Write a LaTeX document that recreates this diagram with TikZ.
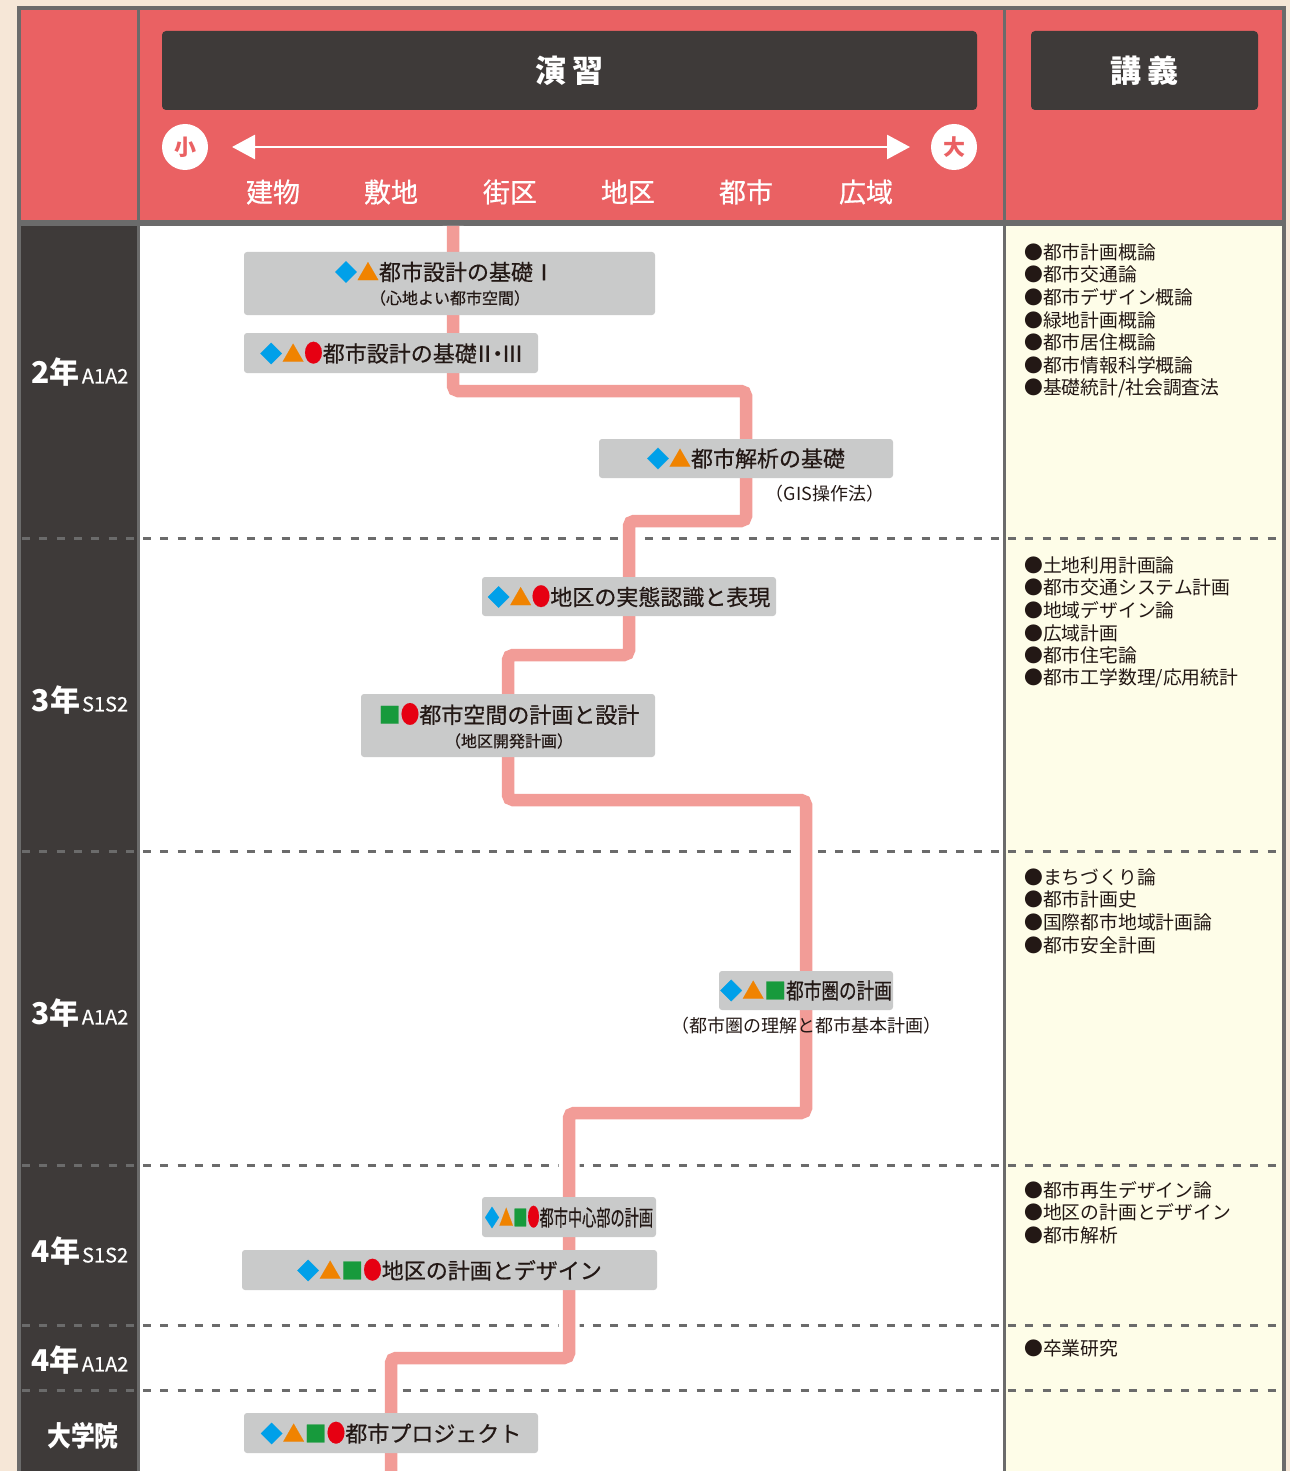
\documentclass[tikz,border=0pt]{standalone}
\usepackage{fontspec}
\usepackage{graphicx}
\setmainfont{Noto Sans CJK JP}
\usetikzlibrary{arrows.meta}
\definecolor{bg}{HTML}{F6E7D7}
\definecolor{hdr}{HTML}{EA6163}
\definecolor{dk}{HTML}{3E3A39}
\definecolor{framec}{HTML}{6B6B6B}
\definecolor{boxg}{HTML}{C9CACA}
\definecolor{pathc}{HTML}{F29C97}
\definecolor{cream}{HTML}{FEFDE8}
\definecolor{txt}{HTML}{231815}
\definecolor{cblue}{HTML}{00A0E9}
\definecolor{corange}{HTML}{F08300}
\definecolor{cgreen}{HTML}{179A3C}
\definecolor{cred}{HTML}{E60012}
\newcommand\fsz[1]{\fontsize{#1}{#1}\selectfont}
\newcommand\sD{\textcolor{cblue}{◆}}
\newcommand\sT{\textcolor{corange}{▲}}
\newcommand\sS{\textcolor{cgreen}{■}}
\newcommand\sC{\textcolor{cred}{\scalebox{0.85}[1.1]{●}}}
\newcommand\medw{\addfontfeature{FakeBold=0.6}}
\tikzset{
  boxn/.style={fill=boxg, rounded corners=3pt, inner sep=0pt, text=txt, font=\fsz{22}\medw},
  boxt/.style={inner sep=0pt, text=txt, font=\fsz{22}\medw},
  subt/.style={inner sep=0pt, text=txt, font=\fsz{16}\medw},
  outt/.style={inner sep=0pt, text=txt, font=\fsz{18}},
  lec/.style={anchor=west, inner sep=0pt, text=txt, font=\fsz{18.8}},
  scalelab/.style={inner sep=0pt, text=white, font=\fsz{27}\medw},
  yearl/.style={inner sep=0pt, text=white, font=\bfseries},
  titlebox/.style={fill=dk, rounded corners=4pt, inner sep=0pt, text=white, font=\bfseries\fsz{31}},
  endc/.style={circle, fill=white, minimum size=46pt, inner sep=0pt, text=hdr, font=\bfseries\fsz{22}},
  divline/.style={draw=framec, line width=3pt, dash pattern=on 8pt off 9.3pt},
  route/.style={draw=pathc, line width=12.5pt, rounded corners=5pt},
  halo/.style={draw=white, line width=21pt, rounded corners=5pt},
}
\begin{document}
\begin{tikzpicture}[x=1pt,y=-1pt]
\useasboundingbox (0,0) rectangle (1290,1471);
\fill[bg] (0,0) rectangle (1290,1471);
\fill[framec] (17,6) rectangle (1286,1471);
% header
\fill[hdr] (21,10) rectangle (136.5,220);
\fill[hdr] (139.5,10) rectangle (1002.5,220);
\fill[hdr] (1005.5,10) rectangle (1282,220);
% body
\fill[dk] (21,226) rectangle (136.5,1471);
\fill[white] (139.5,226) rectangle (1002.5,1471);
\fill[cream] (1005.5,226) rectangle (1282,1471);

% dashed row dividers
\foreach \yy [count=\i] in {538,851,1165,1325,1390}
  \draw[divline] (22,\yy) coordinate (dl\i) -- (1282,\yy) coordinate (dr\i);

% header content
\node[titlebox, minimum width=815pt, minimum height=79pt] (ensh) at (569.5,70.5) {演\hspace{7pt}習};
\node[titlebox, minimum width=227pt, minimum height=79pt] (kogi) at (1144.5,70.5) {講\hspace{7pt}義};
\node[endc] (small) at (185,147) {小};
\node[endc] (large) at (954,147) {大};
\coordinate (arL) at (232,147);
\coordinate (arR) at (910,147);
\draw[white, line width=2.8pt, {Triangle[length=23pt,width=24pt]}-{Triangle[length=23pt,width=24pt]}] (arL) -- (arR);
\node[scalelab] (s1) at (273,192) {建物};
\node[scalelab] (s2) at (391,192) {敷地};
\node[scalelab] (s3) at (510,192) {街区};
\node[scalelab] (s4) at (628,192) {地区};
\node[scalelab] (s5) at (746,192) {都市};
\node[scalelab] (s6) at (866,192) {広域};

% year labels
\node[yearl] (y1) at (80,372) {{\fsz{30}2年}\hspace{2pt}{\mdseries\medw\fsz{20}A1A2}};
\node[yearl] (y2) at (80,700) {{\fsz{30}3年}\hspace{2pt}{\mdseries\medw\fsz{20}S1S2}};
\node[yearl] (y3) at (80,1013) {{\fsz{30}3年}\hspace{2pt}{\mdseries\medw\fsz{20}A1A2}};
\node[yearl] (y4) at (80,1251) {{\fsz{30}4年}\hspace{2pt}{\mdseries\medw\fsz{20}S1S2}};
\node[yearl] (y5) at (80,1360) {{\fsz{30}4年}\hspace{2pt}{\mdseries\medw\fsz{20}A1A2}};
\node[yearl] (y6) at (83,1436) {\fsz{28}\scalebox{0.85}[1]{大学院}};

% route
\coordinate (p0) at (453,226);
\coordinate (p1) at (453,391);
\coordinate (p2) at (746,391);
\coordinate (p3) at (746,521);
\coordinate (p4) at (629,521);
\coordinate (p5) at (629,655);
\coordinate (p6) at (508,655);
\coordinate (p7) at (508,800);
\coordinate (p8) at (806,800);
\coordinate (p9) at (806,1113);
\coordinate (p10) at (569,1113);
\coordinate (p11) at (569,1358);
\coordinate (p12) at (391,1358);
\coordinate (p13) at (391,1475);
\draw[halo] (p0) -- (p1) -- (p2) -- (p3) -- (p4) -- (p5) -- (p6) -- (p7) -- (p8) -- (p9) -- (p10) -- (p11) -- (p12) -- (p13);
\draw[route] (p0) -- (p1) -- (p2) -- (p3) -- (p4) -- (p5) -- (p6) -- (p7) -- (p8) -- (p9) -- (p10) -- (p11) -- (p12) -- (p13);

% exercise boxes
\node[boxn, minimum width=411pt, minimum height=63pt] (b1) at (449.5,283.5) {};
\node[boxt] (b1t) at (445,272) {\sD\sT 都市設計の基礎Ⅰ};
\node[subt] (b1s) at (450,298) {（心地よい都市空間）};

\node[boxn, minimum width=294pt, minimum height=40pt] (b2) at (391,353) {\sD\sT\sC 都市設計の基礎\makebox[0.7em]{Ⅱ}\makebox[0.5em]{・}\makebox[0.85em]{Ⅲ}};

\node[boxn, minimum width=294pt, minimum height=39pt] (b3) at (746,458.5) {\sD\sT 都市解析の基礎};
\node[outt] (b3s) at (825,494) {（GIS操作法）};

\node[boxn, minimum width=294pt, minimum height=39pt] (b4) at (629,596.5) {\sD\sT\sC 地区の実態認識と表現};

\node[boxn, minimum width=294pt, minimum height=63pt] (b5) at (508,725.5) {};
\node[boxt] (b5t) at (509,714) {\sS\sC 都市空間の計画と設計};
\node[subt] (b5s) at (509,741) {（地区開発計画）};

\node[boxn, minimum width=174pt, minimum height=39pt] (b6) at (806,990.5) {\sD\sT\sS\scalebox{0.8}[1]{都市圏の計画}};
\node[outt] (b6s) at (806,1026) {（都市圏の理解と都市基本計画）};

\node[boxn, minimum width=174pt, minimum height=40pt] (b7) at (569,1217) {\scalebox{0.645}[1]{\sD\sT\sS\sC 都市中心部の計画}};

\node[boxn, minimum width=415pt, minimum height=40pt] (b8) at (449.5,1270) {\sD\sT\sS\sC 地区の計画とデザイン};

\node[boxn, minimum width=294pt, minimum height=40pt] (b9) at (391,1433) {\sD\sT\sS\sC 都市プロジェクト};

% lectures
\foreach \t [count=\i] in {都市計画概論,都市交通論,都市デザイン概論,緑地計画概論,都市居住概論,都市情報科学概論,基礎統計/社会調査法}
  \node[lec] (la\i) at (1024,{252+22.7*(\i-1)}) {●\t};
\foreach \t [count=\i] in {土地利用計画論,都市交通システム計画,地域デザイン論,広域計画,都市住宅論,都市工学数理/応用統計}
  \node[lec] (lb\i) at (1024,{565+22.7*(\i-1)}) {●\t};
\foreach \t [count=\i] in {まちづくり論,都市計画史,国際都市地域計画論,都市安全計画}
  \node[lec] (lc\i) at (1024,{877+22.7*(\i-1)}) {●\t};
\foreach \t [count=\i] in {都市再生デザイン論,地区の計画とデザイン,都市解析}
  \node[lec] (ld\i) at (1024,{1190+22.7*(\i-1)}) {●\t};
\node[lec] (le1) at (1024,1348) {●卒業研究};
\end{tikzpicture}
\end{document}
